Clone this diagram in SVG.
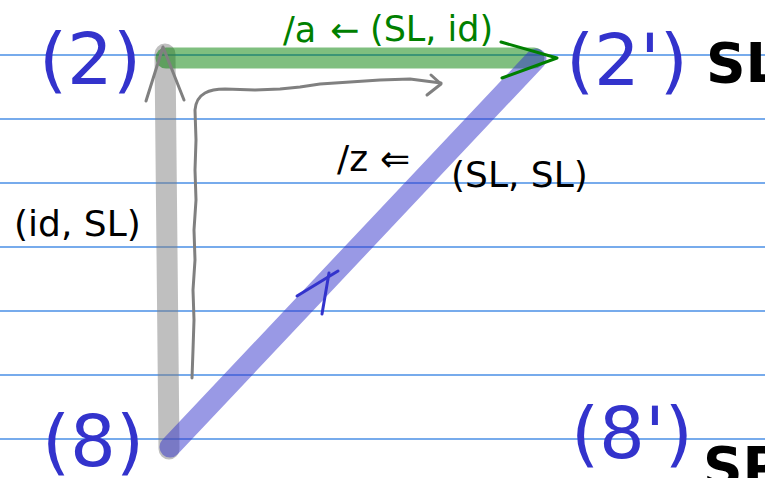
<svg xmlns="http://www.w3.org/2000/svg" width="765" height="478" viewBox="0 0 765 478">
<style>
.rule{stroke:#4a8fe6;stroke-width:1.3}
.node{font-family:"DejaVu Sans","Liberation Sans",sans-serif;font-size:72px;fill:#3333cc}
.cat{font-family:"DejaVu Sans","Liberation Sans",sans-serif;font-size:55px;font-weight:bold;fill:#000}
.lbl{font-family:"DejaVu Sans","Liberation Sans",sans-serif;font-size:36px;fill:#000}
.glbl{font-family:"DejaVu Sans","Liberation Sans",sans-serif;font-size:35px;fill:#008000}
.thick{fill:none;stroke-linecap:round;stroke-width:21;opacity:0.5}
.pen{fill:none;stroke-linecap:round;stroke-linejoin:round;stroke-width:3}
</style>
<rect width="765" height="478" fill="#fff"/>
<g id="rules">
<line class="rule" x1="0" y1="55" x2="765" y2="55"/>
<line class="rule" x1="0" y1="119" x2="765" y2="119"/>
<line class="rule" x1="0" y1="183" x2="765" y2="183"/>
<line class="rule" x1="0" y1="247" x2="765" y2="247"/>
<line class="rule" x1="0" y1="311" x2="765" y2="311"/>
<line class="rule" x1="0" y1="375" x2="765" y2="375"/>
<line class="rule" x1="0" y1="439" x2="765" y2="439"/>
</g>
<g id="connectors">
<line class="thick" x1="165" y1="54" x2="169" y2="449" stroke="#808080"/>
<line class="thick" x1="166" y1="58" x2="534" y2="58" stroke="#008000" stroke-width="19"/>
<line class="thick" x1="170" y1="447" x2="536" y2="59" stroke="#3333cc"/>
<polyline class="pen" points="146,101 163,47 184,100" stroke="#808080"/>
<polyline class="pen" points="501,42 557,58 502,78" stroke="#008000"/>
<polyline class="pen" points="297,296 338,271" stroke="#3333cc"/>
<polyline class="pen" points="322,314 329,273" stroke="#3333cc"/>
<path class="pen" stroke="#808080" stroke-width="2.5" d="M192,378 L193,350 L194,320 L193,290 L195,260 L194,230 L196,200 L195,170 L196,140 L195,110 Q196,98 205,93 Q212,89 225,89 L255,90 L280,89 L300,87 L320,84 L350,82 L380,80 L410,79 L441,83"/>
<polyline class="pen" points="431,75 441,84 427,95" stroke="#808080" stroke-width="2.5"/>
<text class="glbl" x="283" y="42">/a</text>
<text class="glbl" x="330" y="42" font-size="30">←</text>
<text class="glbl" x="370" y="41">(SL, id)</text>
<text class="lbl" x="337" y="171" font-size="33">/z</text>
<text class="lbl" x="380" y="171" font-size="31">⇐</text>
<text class="lbl" x="451" y="187">(SL, SL)</text>
<text class="lbl" x="14" y="236">(id, SL)</text>
</g>
<g id="n2"><text class="node" x="39" y="84">(2)</text></g>
<g id="n2p"><text class="node" x="566" y="85">(2')</text><text class="cat" x="706" y="82">SL</text></g>
<g id="n8"><text class="node" x="42" y="466">(8)</text></g>
<g id="n8p"><text class="node" x="571" y="458">(8')</text><text class="cat" x="703" y="486">SP</text></g>
</svg>
